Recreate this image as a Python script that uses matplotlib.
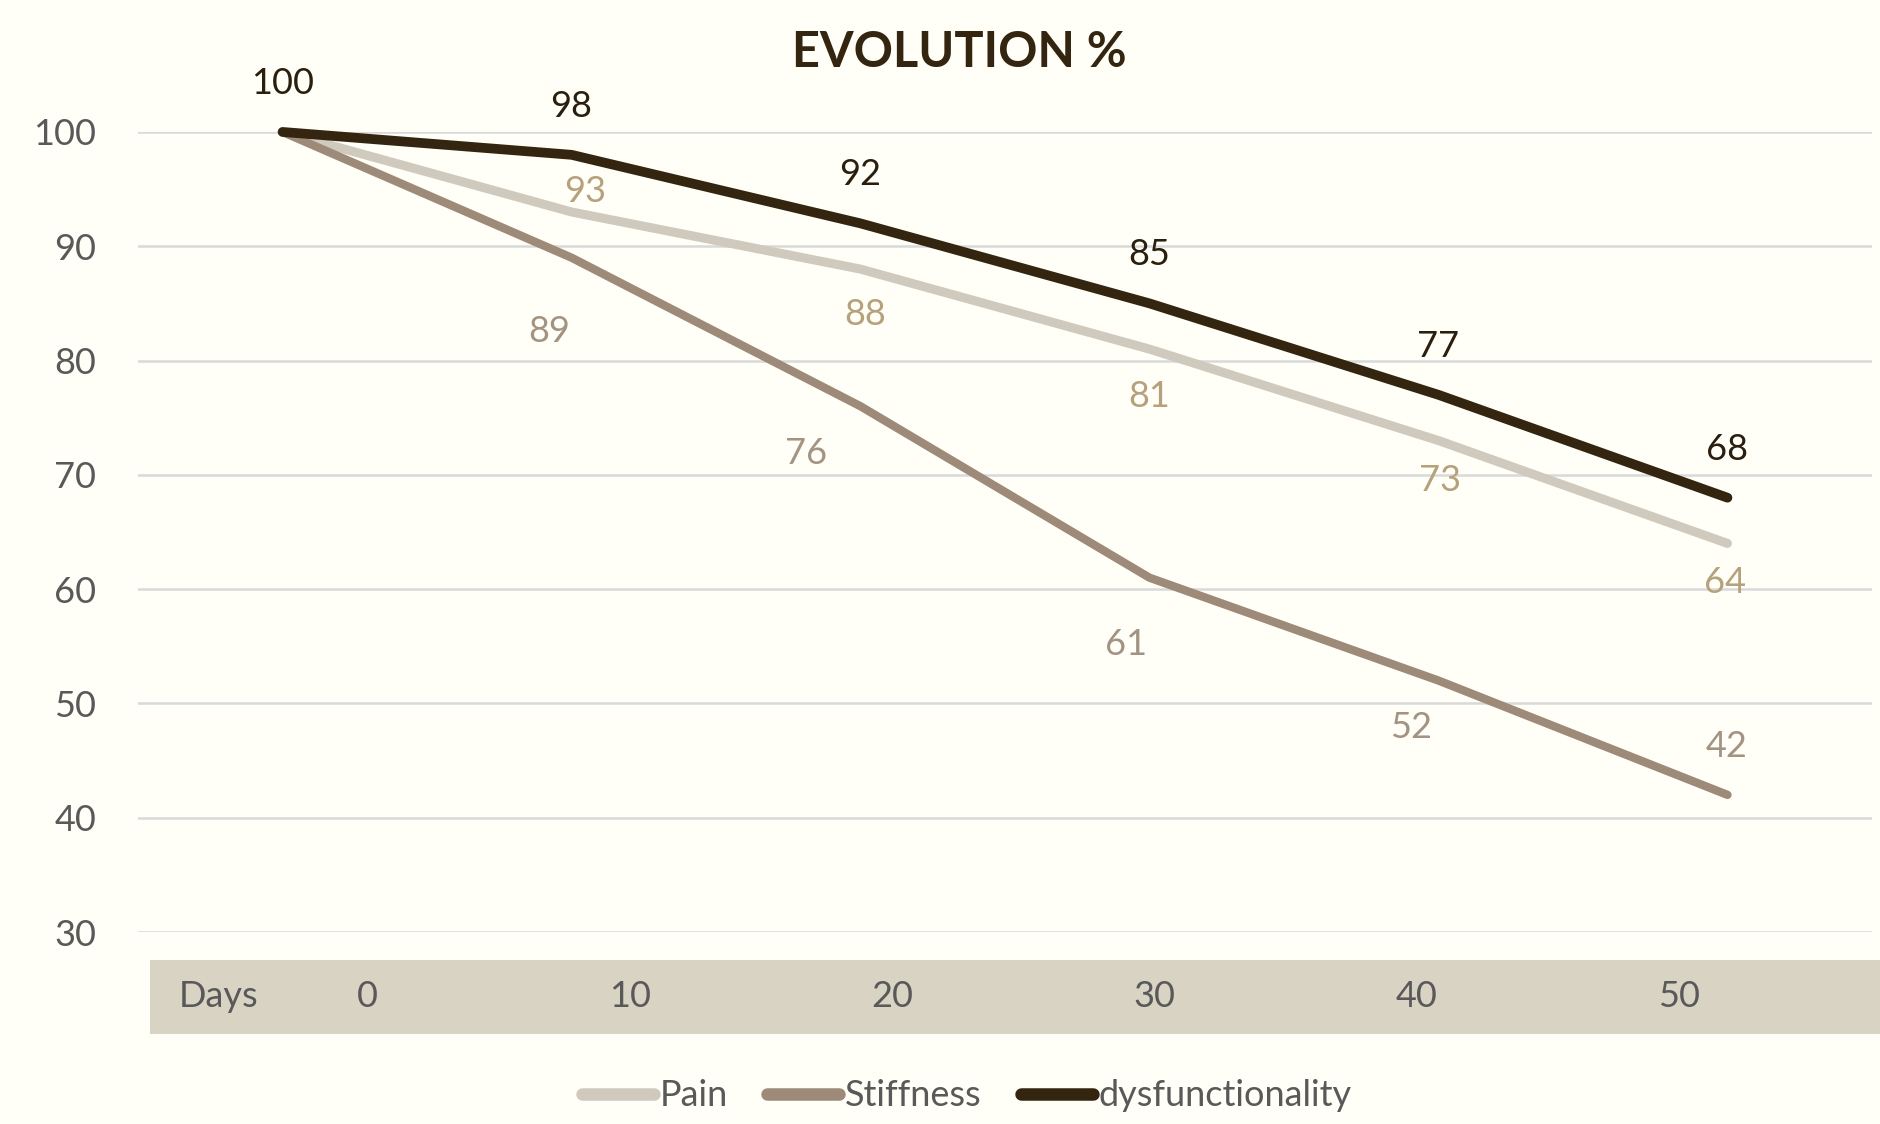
import matplotlib.pyplot as plt

plt.rcParams['font.family'] = ['Lato', 'DejaVu Sans']

days = ['0', '10', '20', '30', '40', '50']
pain = [100, 93, 88, 81, 73, 64]
stiffness = [100, 89, 76, 61, 52, 42]
dysfunction = [100, 98, 92, 85, 77, 68]
series_names = ['Pain', 'Stiffness', 'dysfunctionality']
y_ticks = [30, 40, 50, 60, 70, 80, 90, 100]

bg = '#FFFEF7'
line_colors = ['#D0C9BE', '#9E8A78', '#33250F']
label_colors = ['#B5A27C', '#A39382', '#2A1F0E']
grey = '#595959'

# label offsets in points, per point (None = hidden)
pain_off = [None, (10, 15), (3, -33), (0, -34), (1, -29), (-2, -28)]
stiff_off = [None, (-16, -53), (-39, -34), (-17, -48), (-20, -34), (-1, 35)]
dys_off = [(0, 35)] * 6

fig = plt.figure(figsize=(18.81, 11.24), dpi=100, facecolor=bg)
ax = fig.add_axes([0.0734, 0.1708, 0.9218, 0.7118])
ax.set_facecolor(bg)

x = list(range(len(days)))
all_series = [pain, stiffness, dysfunction]
offsets = [pain_off, stiff_off, dys_off]
widths = [6.5, 6, 7]
for vals, name, col, lw in zip(all_series, series_names, line_colors, widths):
    ax.plot(x, vals, color=col, lw=lw, label=name, solid_capstyle='round',
            solid_joinstyle='round', clip_on=False, zorder=3)

for vals, offs, col in zip(all_series, offsets, label_colors):
    for xi, v, off in zip(x, vals, offs):
        if off is None:
            continue
        ax.annotate(str(v), (xi, v), xytext=off, textcoords='offset points',
                    ha='center', va='center', fontsize=26, color=col,
                    annotation_clip=False)

ax.set_xlim(-0.5, 5.5)
ax.set_ylim(30, 100)
ax.set_yticks(y_ticks)
ax.set_xticks([])
ax.tick_params(axis='y', length=0, labelsize=26, labelcolor=grey, pad=30)
ax.grid(axis='y', color='#D9D9D9', lw=1.8)
ax.set_axisbelow(True)
for s in ax.spines.values():
    s.set_visible(False)

fig.text(0.51, 0.953, 'EVOLUTION %', ha='center', va='center',
         fontsize=35, fontweight='bold', color='#33250F')

# beige band with the days
band = fig.add_axes([0.0797, 0.080, 0.9203, 0.066])
band.set_facecolor('#D9D3C4')
band.set_xlim(-0.83, 5.77)
band.set_ylim(0, 1)
band.set_xticks([])
band.set_yticks([])
for s in band.spines.values():
    s.set_visible(False)
band.text(-0.57, 0.5, 'Days', ha='center', va='center', fontsize=26, color=grey)
for i, d in enumerate(days):
    band.text(i, 0.5, d, ha='center', va='center', fontsize=26, color=grey)

handles, labels = ax.get_legend_handles_labels()
leg = fig.legend(handles, labels, loc='center', bbox_to_anchor=(0.514, 0.025),
                 ncol=3, frameon=False, fontsize=26, handlelength=2.0,
                 handletextpad=0.15, columnspacing=1.1, labelcolor=grey)
for h in leg.get_lines():
    h.set_linewidth(9)

fig.savefig('out.png', dpi=100, facecolor=bg)
